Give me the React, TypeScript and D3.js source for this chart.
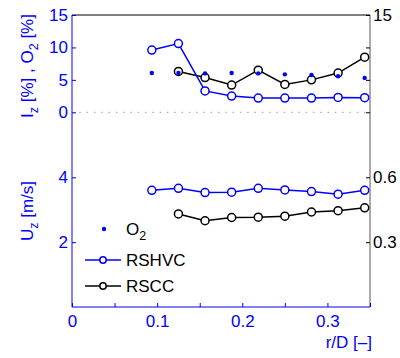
import React, { useEffect, useRef } from "react";
import * as d3 from "d3";

// radial positions r/D
const rD = [0.09375, 0.125, 0.15625, 0.1875, 0.21875, 0.25, 0.28125, 0.3125, 0.34375];

// turbulence intensity Iz [%]
const izRSHVC = [9.6, 10.6, 3.3, 2.5, 2.2, 2.2, 2.2, 2.3, 2.25];
const izRSCC = [null, 6.3, 5.35, 4.2, 6.5, 4.3, 5.0, 6.05, 8.5];

// oxygen O2 [%]
const o2 = [6.05, 6.05, 6.0, 6.05, 6.0, 5.85, 5.75, 5.55, 5.3];

// axial velocity Uz [m/s]
const uzRSHVC = [3.6, 3.66, 3.53, 3.54, 3.66, 3.61, 3.56, 3.48, 3.6];
const uzRSCC = [null, 2.87, 2.66, 2.76, 2.77, 2.8, 2.93, 2.97, 3.06];

const xTicks = [0, 0.05, 0.1, 0.15, 0.2, 0.25, 0.3, 0.35];
const xLabels = [0, 0.1, 0.2, 0.3];
const topTicks = [0, 5, 10, 15];
const botTicks = [2, 4];
const rightBotTicks = [0.3, 0.6];

const BLUE = "#0000ff";
const FONT = "'Liberation Sans', Arial, sans-serif";
const FS = "17px";
const SUB = "12.5px";

const App = () => {
  const ref = useRef<SVGSVGElement>(null);

  useEffect(() => {
    const svg = d3.select(ref.current);
    svg.selectAll("*").remove();

    const left = 72, right = 370, top = 15, bottom = 307;

    const x = d3.scaleLinear().domain([0, 0.35]).range([left, right]);
    const yTop = d3.scaleLinear().domain([0, 15]).range([112.3, top]);
    const yBot = d3.scaleLinear().domain([0, 4]).range([bottom, 177.3]);
    const yRight = d3.scaleLinear().domain([0, 0.6]).range([bottom, 177.3]);

    // frame
    svg.append("line").attr("x1", left).attr("x2", right).attr("y1", top).attr("y2", top)
      .attr("stroke", "#555").attr("stroke-width", 1.5);
    svg.append("line").attr("x1", right).attr("x2", right).attr("y1", top).attr("y2", bottom)
      .attr("stroke", "#555").attr("stroke-width", 1);
    svg.append("line").attr("x1", left).attr("x2", left).attr("y1", top).attr("y2", bottom)
      .attr("stroke", BLUE).attr("stroke-width", 1);
    svg.append("line").attr("x1", left).attr("x2", right).attr("y1", bottom).attr("y2", bottom)
      .attr("stroke", BLUE).attr("stroke-width", 1);

    // zero line
    svg.append("line").attr("x1", left).attr("x2", right)
      .attr("y1", yTop(0)).attr("y2", yTop(0))
      .attr("stroke", "#999").attr("stroke-dasharray", "1.5,5.8");

    const styleAxis = (g, color) => {
      g.select(".domain").remove();
      g.selectAll("line").attr("stroke", color);
      g.selectAll("text").attr("fill", color).style("font-family", FONT).style("font-size", FS);
    };

    svg.append("g").attr("transform", `translate(${left},0)`)
      .call(d3.axisLeft(yTop).tickValues(topTicks).tickSize(-4).tickPadding(4))
      .call((g) => styleAxis(g, BLUE));
    svg.append("g").attr("transform", `translate(${left},0)`)
      .call(d3.axisLeft(yBot).tickValues(botTicks).tickSize(-4).tickPadding(4)
        .tickFormat(d3.format("d")))
      .call((g) => styleAxis(g, BLUE));
    svg.append("g").attr("transform", `translate(${right},0)`)
      .call(d3.axisRight(yTop).tickValues(topTicks).tickSize(-4).tickPadding(3)
        .tickFormat((d) => (d === 15 ? "15" : "")))
      .call((g) => styleAxis(g, "#000"));
    svg.append("g").attr("transform", `translate(${right},0)`)
      .call(d3.axisRight(yRight).tickValues(rightBotTicks).tickSize(-4).tickPadding(3)
        .tickFormat(d3.format(".1f")))
      .call((g) => styleAxis(g, "#000"));
    svg.append("g").attr("transform", `translate(0,${bottom})`)
      .call(d3.axisBottom(x).tickValues(xTicks).tickSize(-4).tickPadding(8)
        .tickFormat((d) => (xLabels.includes(d) ? (d === 0 ? "0" : d3.format(".1f")(d)) : "")))
      .call((g) => styleAxis(g, BLUE));

    // series
    const drawSeries = (vals, yScale, color) => {
      const pts = rD.map((r, i) => [r, vals[i]]).filter((p) => p[1] != null);
      svg.append("path").datum(pts)
        .attr("d", d3.line().x((d) => x(d[0])).y((d) => yScale(d[1])))
        .attr("fill", "none").attr("stroke", color).attr("stroke-width", 1.5);
      svg.append("g").selectAll("circle").data(pts).enter().append("circle")
        .attr("cx", (d) => x(d[0])).attr("cy", (d) => yScale(d[1])).attr("r", 4)
        .attr("fill", "#fff").attr("stroke", color).attr("stroke-width", 1.5);
    };

    drawSeries(izRSCC, yTop, "#000");
    drawSeries(izRSHVC, yTop, BLUE);
    drawSeries(uzRSHVC, yBot, BLUE);
    drawSeries(uzRSCC, yBot, "#000");

    svg.append("g").selectAll("circle").data(rD).enter().append("circle")
      .attr("cx", (d) => x(d)).attr("cy", (d, i) => yTop(o2[i])).attr("r", 2.2)
      .attr("fill", BLUE);

    // axis labels
    const yl1 = svg.append("text").attr("transform", "translate(33,66) rotate(-90)")
      .attr("text-anchor", "middle").attr("fill", BLUE)
      .style("font-family", FONT).style("font-size", FS);
    yl1.append("tspan").text("I");
    yl1.append("tspan").attr("dy", 5).style("font-size", SUB).text("z");
    yl1.append("tspan").attr("dy", -5).text(" [%] , O");
    yl1.append("tspan").attr("dy", 5).style("font-size", SUB).text("2");
    yl1.append("tspan").attr("dy", -5).text(" [%]");

    const yl2 = svg.append("text").attr("transform", "translate(33,211) rotate(-90)")
      .attr("text-anchor", "middle").attr("fill", BLUE)
      .style("font-family", FONT).style("font-size", FS);
    yl2.append("tspan").text("U");
    yl2.append("tspan").attr("dy", 5).style("font-size", SUB).text("z");
    yl2.append("tspan").attr("dy", -5).text(" [m/s]");

    svg.append("text").attr("x", 372).attr("y", 348).attr("text-anchor", "end")
      .attr("fill", BLUE).style("font-family", FONT).style("font-size", FS)
      .text("r/D [\u2013]");

    // legend
    const lg = svg.append("g").style("font-family", FONT).style("font-size", FS);
    lg.append("circle").attr("cx", 104).attr("cy", 229).attr("r", 2.2).attr("fill", BLUE);
    const t = lg.append("text").attr("x", 126).attr("y", 235).attr("fill", "#000");
    t.append("tspan").text("O");
    t.append("tspan").attr("dy", 5).style("font-size", SUB).text("2");

    [["RSHVC", BLUE, 260], ["RSCC", "#000", 286]].forEach(([name, color, yy]) => {
      lg.append("line").attr("x1", 85).attr("x2", 121).attr("y1", yy).attr("y2", yy)
        .attr("stroke", color).attr("stroke-width", 1.5);
      lg.append("circle").attr("cx", 103).attr("cy", yy).attr("r", 3.2)
        .attr("fill", "#fff").attr("stroke", color).attr("stroke-width", 1.5);
      lg.append("text").attr("x", 126).attr("y", +yy + 6).attr("fill", "#000").text(name);
    });
  }, []);

  return (
    <svg ref={ref} width={400} height={358}
      style={{ position: "absolute", left: 0, top: 0, background: "#fff" }} />
  );
};

export default App;
